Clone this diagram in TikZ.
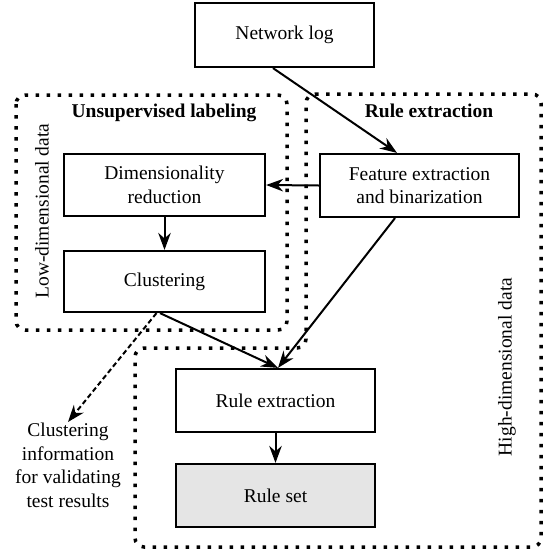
\documentclass[tikz,border=0pt]{standalone}
\usepackage{fontspec}
\setmainfont{Liberation Serif}
\usetikzlibrary{arrows.meta}
\tikzset{
  box/.style={draw, line width=2.2pt, minimum width=#1, align=center, inner sep=2pt},
  box/.default=199pt,
  arr/.style={line width=2pt, -{Stealth[length=17pt,width=12.5pt,inset=5.5pt]}},
  dasharr/.style={arr, dash pattern=on 5pt off 3pt},
  dotbox/.style={line width=3.5pt, dash pattern=on 3.5pt off 7.5pt, rounded corners=9pt},
  lbl/.style={inner sep=0pt},
}
\begin{document}
\begin{tikzpicture}[x=1pt, y=-1pt, font=\fontsize{19.5}{23.5}\selectfont]
\useasboundingbox (0,0) rectangle (543,550);
% dotted regions
\draw[dotbox] (16,95) rectangle (287,330);
\draw[dotbox] (306,94) -- (541,94) -- (541,547) -- (135,547) -- (135,348) -- (306,348) -- cycle;
% boxes
\node[box=179pt, minimum height=64pt] (net) at (284.5,35) {Network log};
\node[box=199pt, minimum height=63pt] (feat) at (419.5,185.5) {Feature extraction\\and binarization};
\node[box=201pt, minimum height=62pt] (dim) at (164.5,185) {Dimensionality\\reduction};
\node[box=201pt, minimum height=61pt] (clus) at (164.5,281.5) {Clustering};
\node[box=199pt, minimum height=63pt] (rext) at (275.5,400.5) {Rule extraction};
\node[box=199pt, minimum height=63pt, fill=black!10] (rset) at (275.5,495.5) {Rule set};
\node[align=center, anchor=north, inner sep=1pt] (info) at (68,422) {Clustering\\information\\for validating\\test results};
% labels
\node[lbl, anchor=base, font=\fontsize{19.5}{23.5}\selectfont\bfseries] (ul) at (164,117) {Unsupervised labeling};
\node[lbl, anchor=base, font=\fontsize{19.5}{23.5}\selectfont\bfseries] (re) at (429,117) {Rule extraction};
\node[lbl, rotate=90] (low) at (42,211) {Low-dimensional data};
\node[lbl, rotate=90] (high) at (507,367) {High-dimensional data};
% connectors
\draw[arr] ([xshift=-11.5pt]net.south) -- ([xshift=-22.5pt]feat.north);
\draw[arr] (feat.west) -- (dim.east);
\draw[arr] (dim) -- (clus);
\draw[arr] ([xshift=-4.5pt]clus.south) -- ([xshift=2.5pt]rext.north);
\draw[arr] ([xshift=-24.5pt]feat.south) -- ([xshift=2.5pt]rext.north);
\draw[dasharr] ([xshift=-8pt]clus.south) -- (info.north);
\draw[arr] (rext) -- (rset);
\end{tikzpicture}
\end{document}
